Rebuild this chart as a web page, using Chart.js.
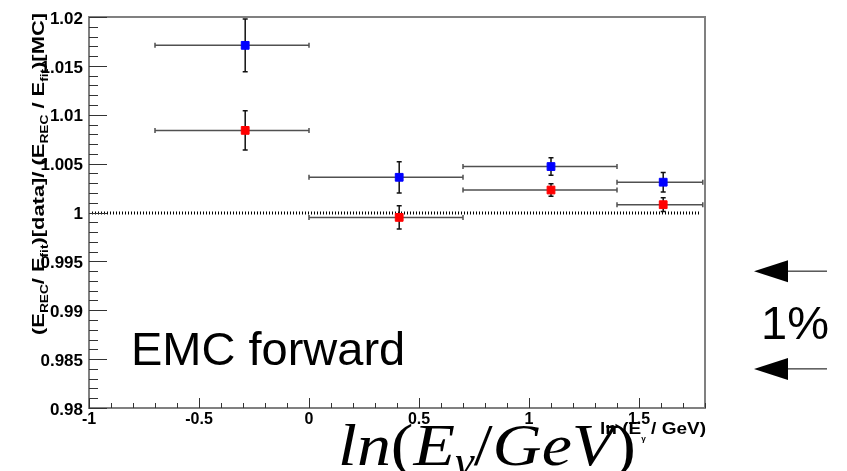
<!DOCTYPE html>
<html>
<head>
<meta charset="utf-8">
<script src="https://cdn.jsdelivr.net/npm/chart.js@4.4.0/dist/chart.umd.min.js"></script>
<style>
    html, body { margin: 0; padding: 0; background: #ffffff; }
    canvas { display: block; }
</style>
</head>
<body>
<canvas id="chart" width="847" height="471"></canvas>
<script>
// bin centres and bin edges in ln(E_gamma / GeV)
const binCenters = [-0.29, 0.41, 1.10, 1.61]
const binLow = [-0.70, 0.00, 0.70, 1.40]
const binHigh = [0.00, 0.70, 1.40, 1.79]

// blue series (upper points) and its errors
const blueValues = [1.0171, 1.0036, 1.0047, 1.0031]
const blueErrors = [0.0027, 0.0016, 0.0009, 0.0010]

// red series (lower points) and its errors
const redValues = [1.0084, 0.9995, 1.0023, 1.0008]
const redErrors = [0.0020, 0.0012, 0.00065, 0.0007]

// axis ranges and tick steps
const xRange = [-1, 1.8]
const yRange = [0.98, 1.02]
const xMajor = 0.5, xMinor = 0.1
const yMajor = 0.005, yMinor = 0.001
const referenceLine = 1
// the "1%" arrows mark these two y values
const arrowLevels = [0.994, 0.984]

const FONT = '"Liberation Sans", Arial, sans-serif'
const FRAME_COLOR = '#808080'

function points(values) {
    return binCenters.map((x, i) => ({x: x, y: values[i]}))
}

// draws a list of text runs one after another, returns total width
function drawRuns(ctx, runs, x, y, measureOnly) {
    let cx = x
    runs.forEach((run) => {
        ctx.font = run.font
        if (!measureOnly) ctx.fillText(run.text, cx, y + (run.dy || 0))
        cx += ctx.measureText(run.text).width
    })
    return cx - x
}

function fitRuns(ctx, runs, x, y, width) {
    const w = drawRuns(ctx, runs, 0, 0, true)
    ctx.save()
    ctx.translate(x, y)
    ctx.scale(width / w, 1)
    drawRuns(ctx, runs, 0, 0, false)
    ctx.restore()
}

const rootPlugin = {
    id: 'rootStyle',
    beforeDatasetsDraw(chart) {
        const ctx = chart.ctx
        const xs = chart.scales.x, ys = chart.scales.y
        const area = chart.chartArea

        // dotted reference line
        ctx.save()
        ctx.strokeStyle = '#000000'
        ctx.lineWidth = 3
        ctx.setLineDash([1, 2])
        const yr = Math.round(ys.getPixelForValue(referenceLine))
        ctx.beginPath()
        ctx.moveTo(area.left, yr)
        ctx.lineTo(area.right - 5, yr)
        ctx.stroke()
        ctx.restore()

        const drawErrors = (values, errors) => {
            values.forEach((v, i) => {
                const px = xs.getPixelForValue(binCenters[i])
                const py = ys.getPixelForValue(v)
                const x0 = xs.getPixelForValue(binLow[i])
                const x1 = xs.getPixelForValue(binHigh[i])
                const y0 = ys.getPixelForValue(v - errors[i])
                const y1 = ys.getPixelForValue(v + errors[i])
                ctx.save()
                ctx.lineWidth = 1.5
                ctx.strokeStyle = '#505050'
                ctx.beginPath()
                ctx.moveTo(x0, py); ctx.lineTo(x1, py)
                ctx.moveTo(x0, py - 2.5); ctx.lineTo(x0, py + 2.5)
                ctx.moveTo(x1, py - 2.5); ctx.lineTo(x1, py + 2.5)
                ctx.stroke()
                ctx.strokeStyle = '#111111'
                ctx.beginPath()
                ctx.moveTo(px, y0); ctx.lineTo(px, y1)
                ctx.moveTo(px - 2.5, y0); ctx.lineTo(px + 2.5, y0)
                ctx.moveTo(px - 2.5, y1); ctx.lineTo(px + 2.5, y1)
                ctx.stroke()
                ctx.restore()
            })
        }
        drawErrors(blueValues, blueErrors)
        drawErrors(redValues, redErrors)
    },
    afterDraw(chart) {
        const ctx = chart.ctx
        const xs = chart.scales.x, ys = chart.scales.y
        const area = chart.chartArea

        // frame
        ctx.save()
        ctx.strokeStyle = FRAME_COLOR
        ctx.lineWidth = 2
        ctx.strokeRect(area.left, area.top, area.right - area.left, area.bottom - area.top)

        // inward ticks
        ctx.strokeStyle = '#333333'
        ctx.lineWidth = 1
        ctx.beginPath()
        const ny = Math.round((yRange[1] - yRange[0]) / yMinor)
        for (let i = 0; i <= ny; i++) {
            const v = yRange[0] + i * yMinor
            const py = Math.round(ys.getPixelForValue(v)) + 0.5
            const len = (i % Math.round(yMajor / yMinor) === 0) ? 18 : 9
            ctx.moveTo(area.left, py)
            ctx.lineTo(area.left + len, py)
        }
        const nx = Math.round((xRange[1] - xRange[0]) / xMinor)
        for (let i = 0; i <= nx; i++) {
            const v = xRange[0] + i * xMinor
            const px = Math.round(xs.getPixelForValue(v)) + 0.5
            const len = (i % Math.round(xMajor / xMinor) === 0) ? 10 : 5
            ctx.moveTo(px, area.bottom)
            ctx.lineTo(px, area.bottom - len)
        }
        ctx.stroke()
        ctx.restore()

        ctx.save()
        ctx.fillStyle = '#000000'
        ctx.textBaseline = 'alphabetic'
        ctx.textAlign = 'left'

        // y axis title, rotated
        ctx.save()
        ctx.translate(44, 335)
        ctx.rotate(-Math.PI / 2)
        const b = 'bold 16px ' + FONT
        const s = 'bold 10px ' + FONT
        fitRuns(ctx, [
            {text: '(E', font: b}, {text: 'REC', font: s, dy: 4},
            {text: '/ E', font: b}, {text: 'fit', font: s, dy: 4},
            {text: ')[data]/ (E', font: b}, {text: 'REC', font: s, dy: 4},
            {text: ' / E', font: b}, {text: 'fit', font: s, dy: 4},
            {text: ')[MC]', font: b}
        ], 0, 0, 322)
        ctx.restore()

        // small x axis title
        const sb = 'bold 16px ' + FONT
        const ss = 'bold 7px ' + FONT
        fitRuns(ctx, [
            {text: 'ln (E', font: sb}, {text: 'γ', font: ss, dy: 7},
            {text: ' / GeV)', font: sb}
        ], 600, 434, 106)

        // large LaTeX-like x title
        const it = 'italic 60px "Liberation Serif", "DejaVu Serif", serif'
        const up = '60px "Liberation Serif", "DejaVu Serif", serif'
        const itS = 'italic 42px "Liberation Serif", "DejaVu Serif", serif'
        fitRuns(ctx, [
            {text: 'ln', font: it}, {text: '(', font: up},
            {text: 'E', font: it}, {text: 'γ', font: itS, dy: 10},
            {text: '/', font: up}, {text: 'GeV', font: it},
            {text: ')', font: up}
        ], 338, 465, 298)

        // annotations
        ctx.font = '47px ' + FONT
        ctx.fillText('EMC forward', 131, 365)
        ctx.fillText('1%', 761, 339)

        arrowLevels.forEach((lv) => {
            const py = ys.getPixelForValue(lv)
            const tip = area.right + 49
            ctx.strokeStyle = '#000000'
            ctx.lineWidth = 1
            ctx.beginPath()
            ctx.moveTo(tip + 30, py)
            ctx.lineTo(tip + 73, py)
            ctx.stroke()
            ctx.beginPath()
            ctx.moveTo(tip, py)
            ctx.lineTo(tip + 34, py - 11)
            ctx.lineTo(tip + 34, py + 11)
            ctx.closePath()
            ctx.fill()
        })
        ctx.restore()
    }
}

const fmt = (v) => String(parseFloat(Number(v).toFixed(3)))

new Chart(document.getElementById('chart'), {
    type: 'scatter',
    data: {
        datasets: [{
            label: 'blue',
            data: points(blueValues),
            backgroundColor: '#0000ff',
            borderColor: '#0000ff',
            borderWidth: 1,
            pointStyle: 'rect',
            pointRadius: 5.5
        }, {
            label: 'red',
            data: points(redValues),
            backgroundColor: '#ff0000',
            borderColor: '#ff0000',
            borderWidth: 1,
            pointStyle: 'rect',
            pointRadius: 5.5
        }]
    },
    options: {
        responsive: false,
        animation: false,
        devicePixelRatio: 1,
        layout: {padding: {top: 17, right: 142, left: 0, bottom: 0}},
        plugins: {
            legend: {display: false},
            tooltip: {enabled: false}
        },
        scales: {
            x: {
                type: 'linear',
                min: xRange[0],
                max: xRange[1],
                grid: {display: false, drawTicks: false},
                border: {display: false},
                ticks: {
                    stepSize: xMajor,
                    includeBounds: false,
                    padding: 2,
                    color: '#000000',
                    font: {family: FONT, size: 16, weight: 'bold'},
                    maxRotation: 0,
                    callback: fmt
                },
                afterFit(scale) { scale.height = 63 }
            },
            y: {
                type: 'linear',
                min: yRange[0],
                max: yRange[1],
                grid: {display: false, drawTicks: false},
                border: {display: false},
                ticks: {
                    stepSize: yMajor,
                    includeBounds: false,
                    padding: 6,
                    labelOffset: 2,
                    color: '#000000',
                    font: {family: FONT, size: 17, weight: 'bold'},
                    callback: fmt
                },
                afterFit(scale) { scale.width = 89 }
            }
        }
    },
    plugins: [rootPlugin]
})
</script>
</body>
</html>
